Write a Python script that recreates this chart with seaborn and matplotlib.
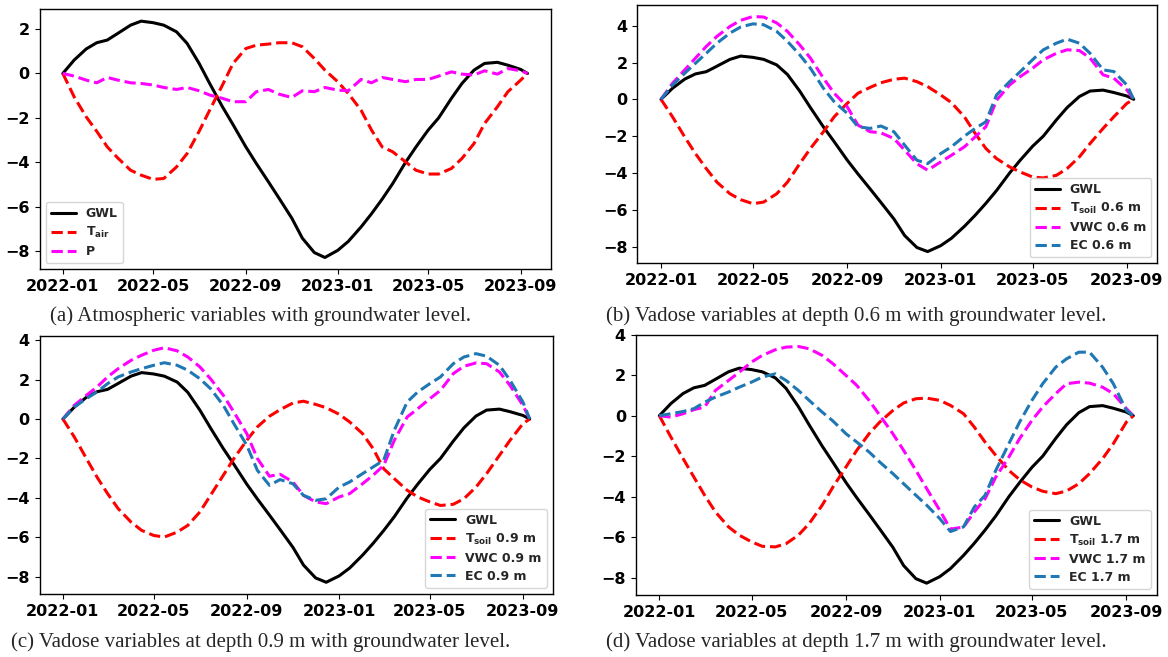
import pandas as pd
import numpy as np
import matplotlib
matplotlib.use('Agg')
import matplotlib.pyplot as plt
import matplotlib.dates as mdates
import seaborn as sns

# dates (half-monthly) used for every series
dates = ['2022-01-01', '2022-01-16', '2022-02-01', '2022-02-15', '2022-03-01', '2022-03-15',
         '2022-04-01', '2022-04-15', '2022-05-01', '2022-05-15', '2022-06-01', '2022-06-15',
         '2022-07-01', '2022-07-15', '2022-08-01', '2022-08-15', '2022-09-01', '2022-09-15',
         '2022-10-01', '2022-10-15', '2022-11-01', '2022-11-15', '2022-12-01', '2022-12-15',
         '2023-01-01', '2023-01-15', '2023-02-01', '2023-02-15', '2023-03-01', '2023-03-15',
         '2023-04-01', '2023-04-15', '2023-05-01', '2023-05-15', '2023-06-01', '2023-06-15',
         '2023-07-01', '2023-07-15', '2023-08-01', '2023-08-15', '2023-09-01', '2023-09-10']

gwl = [0, 0.6, 1.1, 1.38, 1.5, 1.8, 2.17, 2.35, 2.28, 2.17, 1.87, 1.35,
       0.45, -0.45, -1.5, -2.3, -3.3, -4.05, -4.87, -5.6, -6.5, -7.4, -8.05, -8.27,
       -7.95, -7.55, -6.9, -6.3, -5.65, -4.95, -4.0, -3.3, -2.55, -2.0, -1.12, -0.45,
       0.15, 0.45, 0.5, 0.37, 0.18, 0]

# (a) atmospheric
t_air = [0, -1.05, -1.95, -2.6, -3.3, -3.8, -4.35, -4.57, -4.76, -4.72, -4.2, -3.6,
         -2.6, -1.65, -0.52, 0.45, 1.12, 1.27, 1.32, 1.38, 1.38, 1.2, 0.67, 0.15,
         -0.37, -0.9, -1.65, -2.55, -3.3, -3.52, -3.97, -4.35, -4.52, -4.52, -4.27, -3.82,
         -3.15, -2.25, -1.5, -0.82, -0.3, 0]
precip = [0, -0.12, -0.3, -0.42, -0.18, -0.3, -0.42, -0.45, -0.52, -0.63, -0.72, -0.63,
          -0.78, -0.97, -1.12, -1.27, -1.27, -0.82, -0.72, -0.93, -1.08, -0.78, -0.82, -0.63,
          -0.75, -0.78, -0.27, -0.42, -0.18, -0.27, -0.37, -0.27, -0.27, -0.12, 0.07, -0.03,
          -0.07, 0.12, -0.03, 0.22, 0.12, 0]

# (b) 0.6 m
tsoil_06 = [0, -0.95, -2.05, -2.95, -3.76, -4.5, -5.13, -5.45, -5.67, -5.58, -5.13, -4.5,
            -3.5, -2.67, -1.76, -0.95, -0.22, 0.33, 0.65, 0.9, 1.09, 1.15, 0.96, 0.69,
            0.24, -0.18, -0.95, -1.85, -2.67, -3.22, -3.67, -3.95, -4.22, -4.27, -4.13, -3.76,
            -3.13, -2.4, -1.58, -0.95, -0.22, 0]
vwc_06 = [0, 0.87, 1.6, 2.24, 2.87, 3.42, 3.96, 4.29, 4.5, 4.47, 4.15, 3.69,
          2.96, 2.24, 1.15, 0.33, -0.4, -1.4, -1.76, -1.82, -2.13, -2.76, -3.5, -3.85,
          -3.4, -3.04, -2.58, -2.04, -1.49, -0.05, 0.78, 1.24, 1.69, 2.15, 2.5, 2.69,
          2.65, 2.24, 1.33, 1.15, 0.51, 0]
ec_06 = [0, 0.78, 1.42, 1.96, 2.5, 3.05, 3.6, 3.93, 4.1, 4.05, 3.69, 3.15,
         2.42, 1.69, 0.6, -0.13, -0.76, -1.49, -1.58, -1.45, -1.76, -2.49, -3.31, -3.49,
         -2.95, -2.58, -2.0, -1.58, -1.22, 0.24, 0.96, 1.51, 2.15, 2.69, 3.05, 3.27,
         3.05, 2.5, 1.6, 1.51, 0.78, 0]

# (c) 0.9 m
tsoil_09 = [0, -0.91, -2.0, -2.94, -3.78, -4.54, -5.22, -5.64, -5.9, -5.98, -5.73, -5.39,
            -4.71, -3.87, -2.85, -2.0, -1.08, -0.4, 0.14, 0.47, 0.81, 0.9, 0.74, 0.57,
            0.24, -0.15, -0.74, -1.5, -2.52, -3.02, -3.61, -3.95, -4.2, -4.38, -4.32, -4.04,
            -3.45, -2.77, -1.84, -1.08, -0.24, 0]
vwc_09 = [0, 0.69, 1.2, 1.62, 2.13, 2.55, 2.97, 3.23, 3.48, 3.61, 3.45, 3.14,
          2.64, 2.04, 1.2, 0.35, -0.74, -2.0, -2.9, -2.8, -3.19, -3.87, -4.2, -4.29,
          -3.95, -3.78, -3.28, -2.85, -2.35, -1.08, 0.1, 0.52, 1.03, 1.45, 2.3, 2.67,
          2.84, 2.8, 2.38, 1.7, 0.69, 0]
ec_09 = [0, 0.61, 1.03, 1.37, 1.79, 2.13, 2.38, 2.55, 2.72, 2.85, 2.72, 2.47,
         2.04, 1.54, 0.69, -0.24, -1.33, -2.6, -3.36, -3.07, -3.28, -3.87, -4.12, -4.04,
         -3.45, -3.19, -2.77, -2.43, -2.09, -0.57, 0.86, 1.37, 1.79, 2.13, 2.8, 3.14,
         3.31, 3.18, 2.72, 1.96, 0.86, 0]

# (d) 1.7 m
tsoil_17 = [0, -1.05, -2.12, -3.03, -3.93, -4.75, -5.49, -5.9, -6.23, -6.45, -6.48, -6.32,
            -5.9, -5.33, -4.42, -3.52, -2.53, -1.71, -0.89, -0.31, 0.26, 0.63, 0.84, 0.87,
            0.76, 0.51, 0.1, -0.56, -1.3, -1.96, -2.7, -3.16, -3.52, -3.73, -3.85, -3.72,
            -3.36, -2.86, -2.12, -1.38, -0.31, 0]
vwc_17 = [0, -0.07, 0.1, 0.3, 0.43, 1.25, 1.74, 2.15, 2.65, 2.98, 3.26, 3.39,
          3.42, 3.31, 2.98, 2.57, 1.99, 1.5, 0.76, 0.02, -0.89, -1.71, -2.7, -3.6,
          -4.67, -5.6, -5.5, -4.75, -4.1, -3.03, -2.04, -1.13, -0.23, 0.43, 1.09, 1.58,
          1.66, 1.61, 1.41, 1.09, 0.35, 0]
ec_17 = [0, 0.1, 0.21, 0.35, 0.67, 0.92, 1.17, 1.41, 1.66, 1.91, 2.07, 1.74,
         1.25, 0.76, 0.18, -0.26, -0.89, -1.3, -1.79, -2.29, -2.86, -3.36, -3.93, -4.42,
         -5.08, -5.72, -5.49, -4.51, -3.93, -2.7, -1.38, -0.31, 0.76, 1.58, 2.4, 2.81,
         3.14, 3.14, 2.4, 1.58, 0.26, 0]

captions = ['(a) Atmospheric variables with groundwater level.',
            '(b) Vadose variables at depth 0.6 m with groundwater level.',
            '(c) Vadose variables at depth 0.9 m with groundwater level.',
            '(d) Vadose variables at depth 1.7 m with groundwater level.']

x = pd.to_datetime(dates)

sns.set_style('ticks', {'axes.edgecolor': 'black', 'xtick.color': 'black', 'ytick.color': 'black'})
plt.rcParams['font.family'] = ['DejaVu Sans']

fig = plt.figure(figsize=(11.68, 6.57), dpi=100)
positions = [[0.0339, 0.5901, 0.4376, 0.3957],
             [0.5457, 0.5992, 0.4452, 0.3936],
             [0.0339, 0.0959, 0.4396, 0.3927],
             [0.5442, 0.0944, 0.4464, 0.3962]]

tsub = r'$\mathbf{T}_{\mathbf{soil}}$'
panels = [
    [(gwl, 'GWL', 'black', '-'), (t_air, r'$\mathbf{T}_{\mathbf{air}}$', 'red', '--'),
     (precip, 'P', 'magenta', '--')],
    [(gwl, 'GWL', 'black', '-'), (tsoil_06, tsub + ' 0.6 m', 'red', '--'),
     (vwc_06, 'VWC 0.6 m', 'magenta', '--'), (ec_06, 'EC 0.6 m', '#1f77b4', '--')],
    [(gwl, 'GWL', 'black', '-'), (tsoil_09, tsub + ' 0.9 m', 'red', '--'),
     (vwc_09, 'VWC 0.9 m', 'magenta', '--'), (ec_09, 'EC 0.9 m', '#1f77b4', '--')],
    [(gwl, 'GWL', 'black', '-'), (tsoil_17, tsub + ' 1.7 m', 'red', '--'),
     (vwc_17, 'VWC 1.7 m', 'magenta', '--'), (ec_17, 'EC 1.7 m', '#1f77b4', '--')],
]
legend_loc = ['lower left', 'lower right', 'lower right', 'lower right']
cap_pos = [(50, 316), (606, 316), (11, 642), (606, 642)]

for i, series in enumerate(panels):
    ax = fig.add_axes(positions[i])
    for vals, lab, col, ls in series:
        sns.lineplot(x=x, y=vals, ax=ax, color=col, linestyle=ls, linewidth=2.2, label=lab)
    ax.xaxis.set_major_locator(mdates.MonthLocator(bymonth=[1, 5, 9]))
    ax.xaxis.set_major_formatter(mdates.DateFormatter('%Y-%m'))
    ax.tick_params(labelsize=11.5)
    for t in ax.get_xticklabels() + ax.get_yticklabels():
        t.set_fontweight('bold')
    ax.set_xlabel('')
    ax.set_ylabel('')
    for s in ax.spines.values():
        s.set_linewidth(1.0)
    ax.legend(loc=legend_loc[i], prop={'weight': 'bold', 'size': 9}, labelspacing=0.4)
    fig.text(cap_pos[i][0] / 1168, 1 - cap_pos[i][1] / 657, captions[i],
             family='Liberation Serif', fontsize=15, ha='left', va='center')

fig.savefig('out.png', dpi=100)
